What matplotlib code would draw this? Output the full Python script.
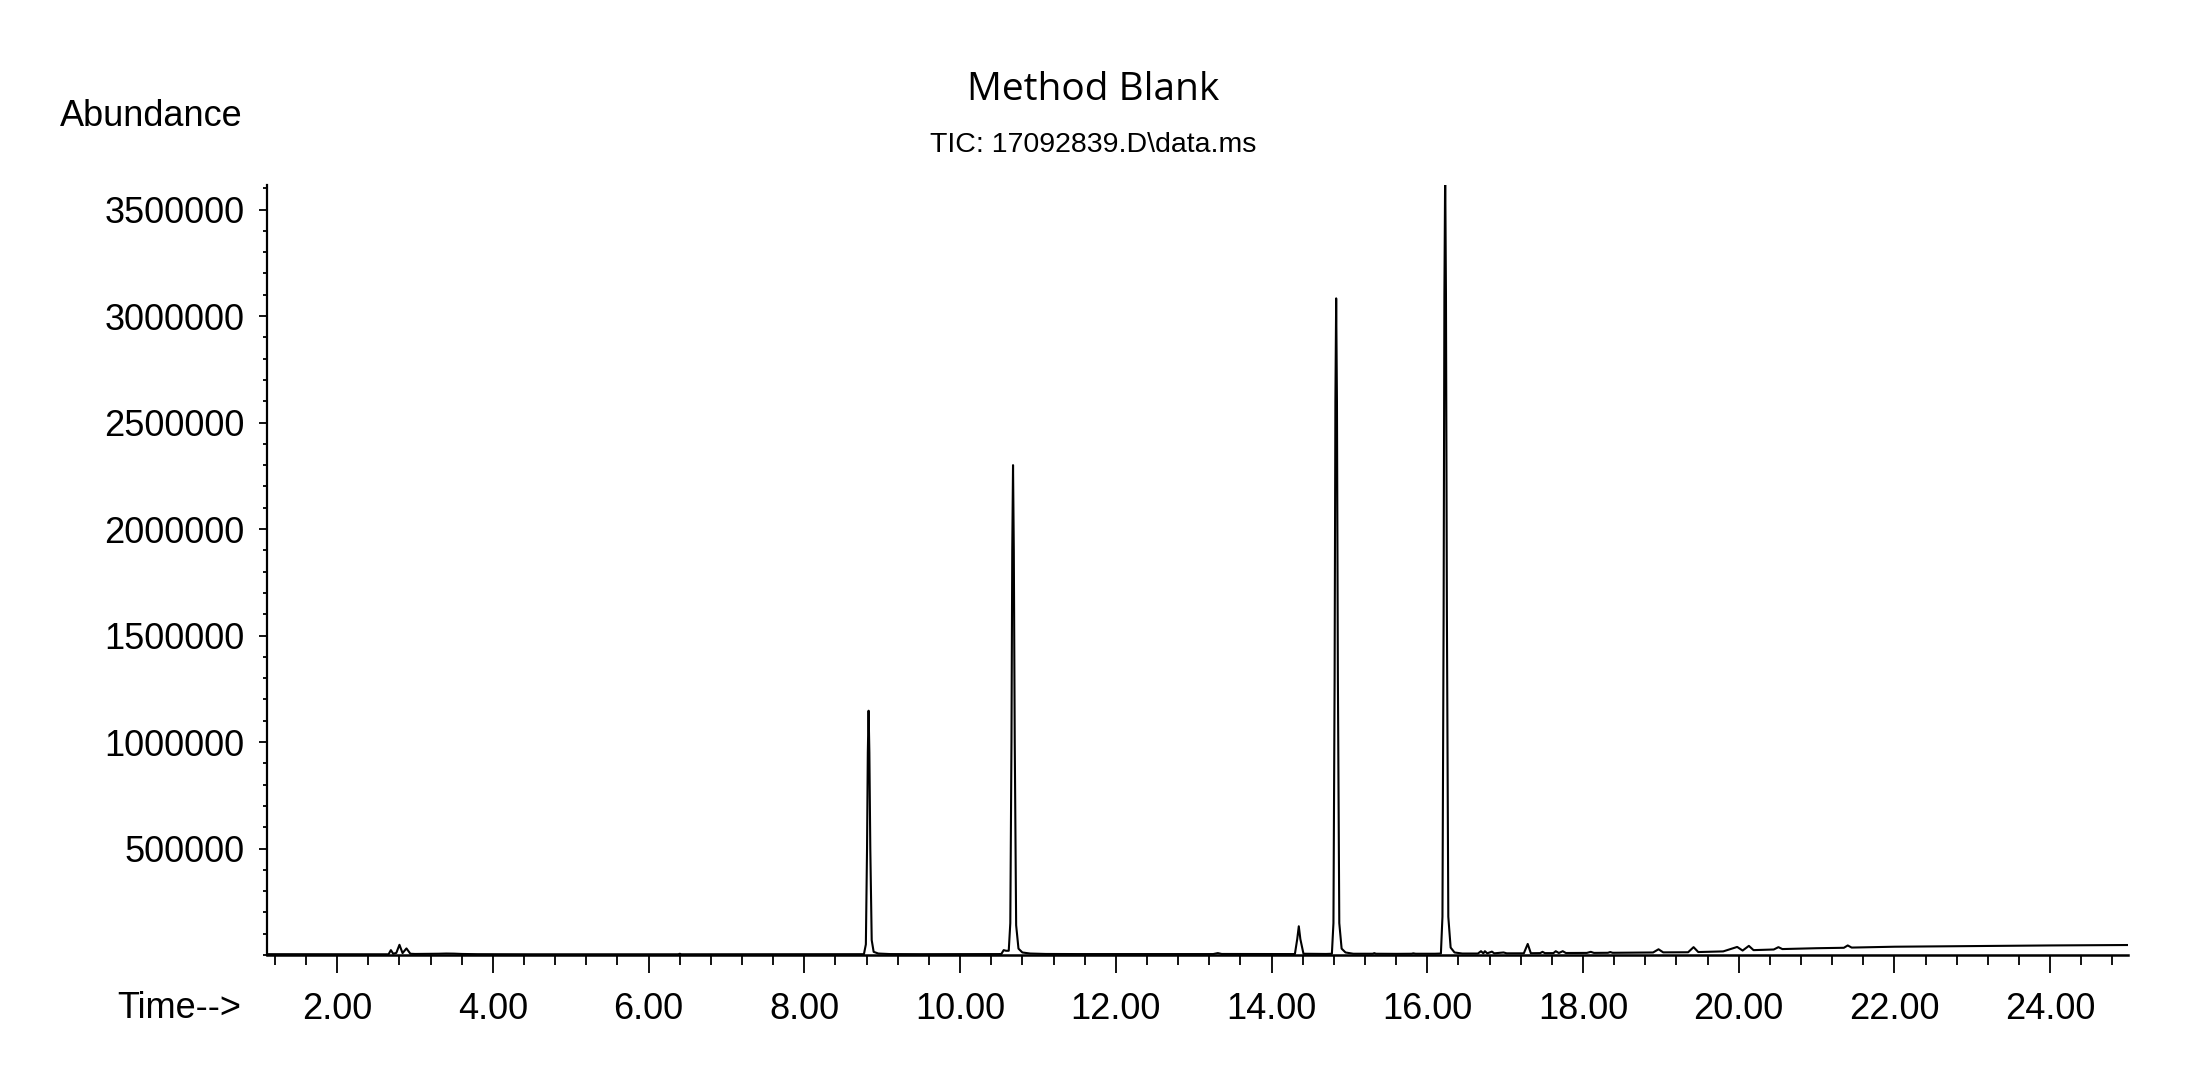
import matplotlib
matplotlib.use('Agg')
import matplotlib.pyplot as plt
from matplotlib.ticker import MultipleLocator

# retention time (min) and abundance
rt_min = [
    1.10, 1.50, 2.00, 2.50, 2.66, 2.69, 2.72, 2.76, 2.80, 2.84, 2.89, 2.94, 3.00,
    3.30, 3.40, 3.50, 3.60, 3.80, 4.50, 5.50, 6.38, 6.40, 6.42, 7.00, 8.00, 8.70,
    # peak 8.82
    8.765, 8.79, 8.805, 8.815, 8.825, 8.835, 8.847, 8.865, 8.89, 8.95, 9.10,
    9.50, 10.00, 10.50, 10.53, 10.56, 10.59, 10.61,
    # peak 10.68
    10.625, 10.645, 10.66, 10.67, 10.68, 10.69, 10.702, 10.72, 10.75, 10.80, 10.90, 11.10,
    11.50, 12.00, 13.00, 13.25, 13.31, 13.36, 14.00, 14.28,
    # peak 14.35
    14.30, 14.33, 14.35, 14.37, 14.41, 14.70,
    # peak 14.83
    14.775, 14.795, 14.81, 14.82, 14.83, 14.84, 14.852, 14.87, 14.90, 14.95, 15.05,
    15.30, 15.32, 15.34, 15.60, 15.80, 15.82, 15.85, 16.10,
    # peak 16.23
    16.175, 16.195, 16.21, 16.22, 16.23, 16.24, 16.252, 16.27, 16.30, 16.35, 16.45,
    16.65, 16.69, 16.72, 16.74, 16.77, 16.83, 16.86, 16.98, 17.02, 17.24,
    17.29, 17.33, 17.45, 17.48, 17.51, 17.62, 17.65, 17.69, 17.74, 17.78,
    18.05, 18.10, 18.14, 18.32, 18.35, 18.38, 18.90,
    18.97, 19.03, 19.35, 19.42, 19.48, 19.80,
    19.98, 20.05, 20.13, 20.19, 20.45, 20.51, 20.56, 21.00, 21.35, 21.40, 21.45,
    22.00, 23.00, 24.00, 25.00,
]
abundance = [
    4000, 4000, 3500, 3500, 3500, 23000, 6000, 10000, 48000, 9000, 31000, 6000, 5000,
    6000, 7000, 6500, 5000, 4000, 3500, 3500, 3500, 6000, 3500, 3500, 3500, 3500,
    4000, 50000, 500000, 950000, 1147000, 950000, 500000, 70000, 15000, 7000, 4500,
    4000, 4000, 4500, 5000, 23000, 20000, 20000,
    20000, 150000, 1000000, 1900000, 2300000, 1900000, 1000000, 140000, 30000, 12000, 7000, 5000,
    4500, 4500, 4500, 4500, 9000, 5000, 4500, 4500,
    5000, 75000, 135000, 75000, 6000, 5000,
    6000, 150000, 1300000, 2600000, 3083000, 2600000, 1300000, 150000, 30000, 12000, 6000,
    6000, 9000, 6000, 5500, 6000, 8000, 6000, 6000,
    7000, 180000, 1600000, 3100000, 3700000, 3100000, 1600000, 180000, 35000, 12000, 7000,
    7000, 18000, 8000, 18000, 8000, 16000, 8000, 12000, 8000, 8000,
    52000, 8500, 9000, 15000, 9000, 9000, 18000, 9500, 18000, 9500,
    10000, 15000, 10000, 10500, 14000, 10500, 12000,
    27000, 12500, 13000, 37000, 14000, 17000,
    38000, 21000, 43000, 23000, 26000, 37000, 28000, 32000, 34000, 45000, 35000,
    39000, 42000, 45000, 47000,
]

x_ticks = [2, 4, 6, 8, 10, 12, 14, 16, 18, 20, 22, 24]
x_tick_labels = ['%.2f' % t for t in x_ticks]
y_ticks = [500000, 1000000, 1500000, 2000000, 2500000, 3000000, 3500000]
y_tick_labels = [str(v) for v in y_ticks]

plt.rcParams['font.family'] = ['Liberation Sans', 'DejaVu Sans']

fig = plt.figure(figsize=(22, 10.86), dpi=100)
ax = fig.add_axes([0.1214, 0.1206, 0.8459, 0.7090])

ax.plot(rt_min, abundance, color='black', linewidth=1.5)

ax.set_xlim(1.10, 25.0)
ax.set_ylim(0, 3615000)

# only left and bottom axis lines, like the ChemStation print
ax.spines['top'].set_visible(False)
ax.spines['right'].set_visible(False)
ax.spines['left'].set_linewidth(1.6)
ax.spines['bottom'].set_linewidth(1.8)

ax.set_xticks(x_ticks)
ax.set_xticklabels(x_tick_labels)
ax.set_yticks(y_ticks)
ax.set_yticklabels(y_tick_labels)
ax.xaxis.set_minor_locator(MultipleLocator(0.4))
ax.yaxis.set_minor_locator(MultipleLocator(100000))

ax.tick_params(axis='x', which='major', direction='out', length=13, width=1.3,
               pad=13.5, labelsize=26)
ax.tick_params(axis='x', which='minor', direction='out', length=7, width=1.3)
ax.tick_params(axis='y', which='major', direction='out', length=5.8, width=1.3,
               pad=10.4, labelsize=26)
ax.tick_params(axis='y', which='minor', direction='out', length=2.9, width=1.3)

fig.text(243 / 2200, 1 - 126 / 1086, 'Abundance', ha='right', va='baseline', fontsize=26)
fig.text(241 / 2200, 1 - 1018 / 1086, 'Time-->', ha='right', va='baseline', fontsize=26)

fig.text(0.497, 1 - 100 / 1086, 'Method Blank', ha='center', va='baseline',
         fontsize=28, family=['Open Sans', 'DejaVu Sans'])
fig.text(0.497, 1 - 152 / 1086, 'TIC: 17092839.D\\data.ms', ha='center', va='baseline',
         fontsize=20.5)

fig.savefig('out.png', dpi=100)
